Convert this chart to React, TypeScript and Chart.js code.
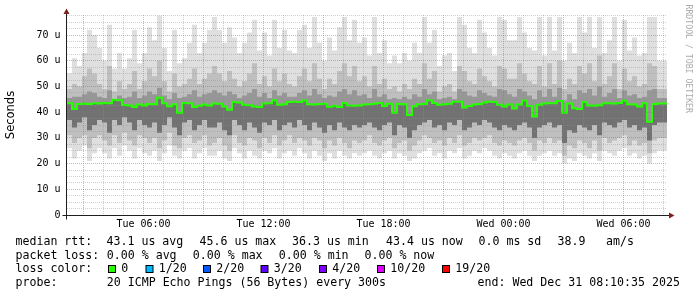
import { useEffect, useRef } from 'react';
import { Chart, registerables } from 'chart.js';

Chart.register(...registerables);

// time axis in hours counted from Tue 00:00
const START_HOUR = 2.176; // Tue 02:10:35
const END_HOUR = 32.176; // Wed 08:10:35
const STEP_HOURS = 0.25;

const RTT_MAX = [
  76, 55, 61, 58, 63, 72, 70, 65, 60, 74, 57, 63, 57, 61, 72, 59, 63, 73, 68, 77.5, 65, 56, 72, 59, 61, 67, 74, 63, 67, 72,
  77, 72, 67, 73, 69, 63, 67, 71, 76, 64, 71, 62, 76, 65, 72, 64, 63, 72, 74, 65, 77, 67, 60, 69, 64, 73, 77, 68, 76, 67,
  69, 62, 77, 63, 68, 59, 62, 59, 63, 60, 67, 63, 77, 67, 72, 58, 62, 63, 56, 77, 74, 65, 63, 76, 71, 65, 62, 77, 76, 68,
  68, 77, 71, 65, 64, 77, 62, 77, 64, 77, 60, 67, 63, 77, 71, 77, 65, 77, 63, 68, 77, 60, 76, 64, 69, 62, 63, 77, 77, 60,
];
const RTT_P90 = [
  53, 49, 51, 50, 54, 57, 55, 51, 49, 58, 48, 52, 49, 51, 56, 49, 52, 57, 54, 60, 52, 48, 55, 50, 51, 53, 57, 51, 53, 55,
  58, 55, 52, 56, 53, 50, 52, 55, 59, 51, 54, 50, 57, 52, 55, 51, 50, 54, 57, 52, 59, 53, 49, 53, 51, 56, 59, 54, 58, 52,
  54, 50, 58, 51, 53, 49, 50, 48, 51, 49, 53, 51, 59, 53, 56, 48, 50, 51, 48, 58, 56, 52, 51, 57, 54, 52, 50, 58, 57, 53,
  53, 59, 55, 52, 51, 58, 50, 59, 51, 60, 49, 53, 51, 58, 55, 59, 52, 62, 51, 54, 59, 49, 57, 52, 54, 50, 51, 59, 58, 49,
];
const RTT_P75 = [
  46.5, 45.5, 46, 46, 47, 48, 47.5, 46, 45.5, 48.5, 45, 46.5, 45.5, 46, 48, 45.5, 46.5, 48, 47, 49.5, 46.5, 45, 47.5, 45.5, 46, 47, 48.5, 46, 47, 47.5,
  48.5, 47.5, 46.5, 48, 47, 45.5, 46.5, 47.5, 49, 46, 47.5, 45.5, 48.5, 46.5, 47.5, 46, 46, 47.5, 48.5, 46.5, 49, 47, 45.5, 46.5, 46, 48, 49, 47, 48.5, 46.5,
  47, 45.5, 49, 46, 47, 45, 45.5, 45, 46, 45, 47, 46, 49, 47, 48, 45, 45.5, 46, 45, 49, 48, 46.5, 46, 48.5, 47.5, 46.5, 46, 49, 48.5, 47,
  46, 49, 48, 46.5, 45, 48.5, 46, 49, 46, 49.5, 44.5, 47, 45, 48.5, 47.5, 49, 46.5, 50, 46, 47.5, 49, 45.5, 48.5, 46.5, 47, 45.5, 46, 48.5, 49, 45.5,
];
const RTT_MEDIAN = [
  44.2, 43.5, 41.2, 43.2, 43.3, 43.2, 43.5, 43.4, 43.6, 43.5, 44.8, 44.6, 42.8, 42.6, 42.0, 43.0, 42.6, 43.2, 43.1, 45.6, 43.5, 42.3, 43.1, 39.8, 43.6, 43.5, 42.0, 42.5, 43.0, 42.6,
  43.4, 43.3, 42.2, 40.9, 44.0, 43.8, 42.9, 42.7, 42.2, 42.0, 43.4, 43.5, 44.6, 42.9, 43.1, 44.0, 44.1, 44.0, 44.5, 43.1, 43.0, 43.2, 43.3, 42.1, 42.5, 42.0, 43.6, 42.6, 42.5, 42.6,
  43.0, 43.1, 43.3, 43.6, 42.4, 43.3, 39.8, 43.2, 43.1, 38.9, 42.3, 43.1, 43.2, 44.6, 43.6, 42.9, 43.1, 43.3, 44.1, 44.1, 41.8, 42.4, 43.0, 43.2, 43.8, 44.1, 44.0, 42.9, 42.2, 43.0,
  41.4, 43.0, 44.5, 42.4, 38.3, 42.9, 43.4, 43.5, 43.5, 44.3, 39.8, 43.4, 41.5, 41.2, 44.0, 42.6, 42.5, 42.7, 43.5, 43.5, 43.4, 43.6, 44.4, 43.1, 43.0, 42.2, 43.5, 36.3, 43.2, 43.4,
];
const RTT_P25 = [
  35, 37, 34, 36, 38, 33, 35, 37, 36, 32, 37, 35, 38, 36, 33, 37, 35, 34, 36, 32, 35, 38, 34, 31, 36, 37, 33, 35, 37, 34,
  34, 36, 33, 31, 37, 35, 33, 36, 34, 32, 36, 35, 37, 33, 35, 36, 34, 37, 35, 33, 36, 34, 32, 35, 33, 36, 34, 33, 35, 34,
  35, 36, 34, 33, 35, 36, 31, 35, 34, 30, 33, 35, 36, 37, 34, 35, 33, 36, 35, 37, 33, 34, 36, 35, 37, 36, 34, 33, 35, 34,
  33, 35, 36, 34, 30, 34, 35, 36, 34, 35, 28, 33, 32, 35, 34, 33, 35, 31, 36, 35, 34, 36, 37, 34, 35, 33, 34, 29, 35, 36,
];
const RTT_P10 = [
  29, 31, 28, 30, 31, 26, 30, 31, 29, 27, 31, 28, 32, 29, 27, 31, 30, 28, 30, 26, 29, 32, 27, 26, 30, 31, 28, 29, 31, 27,
  28, 30, 27, 25, 31, 28, 27, 30, 29, 26, 30, 28, 31, 27, 29, 31, 28, 30, 29, 27, 30, 29, 26, 29, 27, 30, 28, 26, 29, 28,
  29, 31, 28, 27, 29, 30, 26, 28, 29, 25, 27, 29, 31, 30, 28, 29, 27, 30, 28, 31, 27, 28, 30, 29, 30, 31, 28, 27, 29, 28,
  27, 29, 30, 28, 25, 29, 28, 30, 28, 29, 23, 27, 26, 29, 28, 26, 29, 25, 30, 28, 29, 30, 31, 27, 29, 27, 28, 24, 29, 30,
];
const RTT_MIN = [
  24, 26, 22, 25, 27, 21, 24, 26, 24, 22, 26, 23, 27, 25, 22, 26, 24, 23, 25, 21, 24, 27, 23, 22, 25, 26, 22, 24, 26, 23,
  23, 25, 22, 21, 26, 24, 22, 25, 23, 22, 25, 24, 26, 22, 24, 25, 23, 26, 24, 22, 25, 23, 21, 24, 22, 25, 23, 22, 24, 23,
  24, 25, 23, 22, 24, 25, 22, 24, 23, 21, 22, 24, 25, 26, 23, 24, 22, 25, 24, 26, 22, 23, 25, 24, 26, 25, 23, 22, 24, 23,
  22, 24, 25, 23, 21, 23, 24, 25, 23, 24, 20, 22, 21, 24, 23, 22, 24, 21, 25, 24, 23, 25, 26, 23, 24, 22, 23, 20, 24, 25,
];

const X_TICK_HOURS = [6, 12, 18, 24, 30];
const X_TICK_LABELS = ['Tue 06:00', 'Tue 12:00', 'Tue 18:00', 'Wed 00:00', 'Wed 06:00'];
const Y_MAX = 77.8;
const Y_MINOR_STEP = 2.5;
const Y_MAJOR_LABELS = ['0', '10 u', '20 u', '30 u', '40 u', '50 u', '60 u', '70 u'];

const RTT_STATS = ['43.1 us avg', '45.6 us max', '36.3 us min', '43.4 us now', '0.0 ms sd', '38.9', 'am/s'];
const LOSS_STATS = ['0.00 % avg', '0.00 % max', '0.00 % min', '0.00 % now'];
const LOSS_LABELS = ['0', '1/20', '2/20', '3/20', '4/20', '10/20', '19/20'];
const LOSS_COLORS = ['#26ff00', '#00b8ff', '#0059ff', '#5e00ff', '#7e00ff', '#dd00ff', '#ff0000'];
const PROBE_TEXT = '20 ICMP Echo Pings (56 Bytes) every 300s';
const END_TEXT = 'end: Wed Dec 31 08:10:35 2025';
const WATERMARK = 'RRDTOOL / TOBI OETIKER';

const MONO = '"DejaVu Sans Mono", monospace';
const GRID_MINOR = 'rgba(143,143,143,0.42)';
const GRID_MAJOR = 'rgba(222,79,79,0.5)';

const GRID_HOURS: number[] = [];
for (let h = Math.ceil(START_HOUR); h <= Math.floor(END_HOUR); h++) GRID_HOURS.push(h);
const Y_TICKS: number[] = [];
for (let v = 0; v < Y_MAX; v += Y_MINOR_STEP) Y_TICKS.push(v);

const pts = (arr: number[]) => [
  ...arr.map((v, i) => ({ x: START_HOUR + i * STEP_HOURS, y: v })),
  { x: END_HOUR, y: arr[arr.length - 1] },
];

const band = (label: string, arr: number[], color: string | null, fill: string | false) => ({
  label,
  data: pts(arr),
  stepped: 'after' as const,
  borderWidth: 0,
  borderColor: 'rgba(0,0,0,0)',
  backgroundColor: color || 'rgba(0,0,0,0)',
  fill,
  pointRadius: 0,
});

const decor = {
  id: 'decor',
  afterDraw(chart: any) {
    const { ctx, chartArea } = chart;
    const ax = chartArea.left - 0.5;
    const ay = chartArea.bottom + 0.5;
    ctx.save();
    ctx.setLineDash([]);
    ctx.strokeStyle = '#1f1f1f';
    ctx.lineWidth = 1;
    ctx.beginPath();
    ctx.moveTo(ax - 4, ay);
    ctx.lineTo(chartArea.right + 2, ay);
    ctx.moveTo(ax, ay + 4);
    ctx.lineTo(ax, chartArea.top - 1);
    ctx.stroke();
    ctx.fillStyle = '#801f1f';
    ctx.beginPath();
    ctx.moveTo(ax - 3, chartArea.top - 1);
    ctx.lineTo(ax + 3, chartArea.top - 1);
    ctx.lineTo(ax, chartArea.top - 6.5);
    ctx.closePath();
    ctx.fill();
    ctx.beginPath();
    ctx.moveTo(chartArea.right + 2, ay - 3);
    ctx.lineTo(chartArea.right + 2, ay + 3);
    ctx.lineTo(chartArea.right + 7.5, ay);
    ctx.closePath();
    ctx.fill();

    // legend
    ctx.fillStyle = '#000';
    ctx.font = `11.6px ${MONO}`;
    ctx.textBaseline = 'alphabetic';
    ctx.textAlign = 'left';
    const rows = [245, 258.5, 272.2, 285.7];
    ctx.fillText('median rtt:', 15.5, rows[0]);
    const rttX = [106.5, 199.5, 292, 386, 478.5, 557.5, 606];
    RTT_STATS.forEach((t, i) => ctx.fillText(t, rttX[i], rows[0]));
    ctx.fillText('packet loss:', 15.5, rows[1]);
    const lossX = [106.8, 192.8, 278.8, 364.5];
    LOSS_STATS.forEach((t, i) => ctx.fillText(t, lossX[i], rows[1]));
    ctx.fillText('loss color:', 15.5, rows[2]);
    const boxX = [108, 145.5, 203, 260.5, 319, 377, 442];
    LOSS_LABELS.forEach((t, i) => {
      ctx.fillStyle = '#000';
      ctx.fillRect(boxX[i], 265, 8, 8);
      ctx.fillStyle = LOSS_COLORS[i];
      ctx.fillRect(boxX[i] + 1, 266, 6, 6);
      ctx.fillStyle = '#000';
      ctx.fillText(t, boxX[i] + 13.3, rows[2]);
    });
    ctx.fillText('probe:', 15.5, rows[3]);
    ctx.fillText(PROBE_TEXT, 106.8, rows[3]);
    ctx.fillText(END_TEXT, 477.5, rows[3]);

    // watermark
    ctx.fillStyle = '#ababab';
    ctx.font = `8.2px ${MONO}`;
    ctx.translate(688, 4.5);
    ctx.rotate(Math.PI / 2);
    ctx.textBaseline = 'middle';
    ctx.fillText(WATERMARK, 0, 0);
    ctx.restore();
  },
};

export default function App() {
  const ref = useRef<HTMLCanvasElement | null>(null);
  useEffect(() => {
    if (!ref.current) return;
    const chart = new Chart(ref.current, {
      type: 'line',
      data: {
        datasets: [
          {
            label: 'median',
            data: pts(RTT_MEDIAN),
            stepped: 'after',
            borderColor: LOSS_COLORS[0],
            borderWidth: 2,
            borderCapStyle: 'butt',
            borderJoinStyle: 'miter',
            fill: false,
            pointRadius: 0,
          },
          band('p75', RTT_P75, '#979797', '-1'),
          band('p25', RTT_P25, '#727272', '-2'),
          band('p90', RTT_P90, '#bfbfbf', '+1'),
          band('p10', RTT_P10, null, false),
          band('max', RTT_MAX, '#dfdfdf', '+1'),
          band('min', RTT_MIN, null, false),
        ] as any,
      },
      options: {
        animation: false,
        responsive: false,
        devicePixelRatio: 1,
        events: [],
        layout: { padding: { left: 0, top: 15, right: 30, bottom: 0 } },
        plugins: { legend: { display: false }, tooltip: { enabled: false } },
        scales: {
          x: {
            type: 'linear',
            min: START_HOUR,
            max: END_HOUR,
            afterBuildTicks: (s: any) => {
              s.ticks = GRID_HOURS.map((v) => ({ value: v }));
            },
            afterFit: (s: any) => {
              s.height = 82;
            },
            grid: {
              z: 1,
              drawTicks: false,
              lineWidth: 1,
              color: (c: any) => (c.tick && c.tick.value % 3 === 0 ? GRID_MAJOR : GRID_MINOR),
            },
            border: { display: false, dash: [1, 1] },
            ticks: {
              autoSkip: false,
              maxRotation: 0,
              padding: 3,
              color: '#000',
              font: { family: MONO, size: 10 },
              callback: (v: any) => {
                const i = X_TICK_HOURS.indexOf(Number(v));
                return i >= 0 ? X_TICK_LABELS[i] : '';
              },
            },
          },
          y: {
            type: 'linear',
            min: 0,
            max: Y_MAX,
            afterBuildTicks: (s: any) => {
              s.ticks = Y_TICKS.map((v) => ({ value: v }));
            },
            afterFit: (s: any) => {
              s.width = 67;
            },
            grid: {
              z: 1,
              drawTicks: false,
              lineWidth: 1,
              color: (c: any) => {
                const v = c.tick ? c.tick.value : 0;
                if (v === 0) return 'rgba(0,0,0,0)';
                return v % 10 === 0 ? GRID_MAJOR : GRID_MINOR;
              },
            },
            border: { display: false, dash: [1, 1] },
            title: {
              display: true,
              text: 'Seconds',
              color: '#000',
              font: { family: '"DejaVu Sans", sans-serif', size: 11.5 },
              padding: { top: 4, bottom: 4 },
            },
            ticks: {
              autoSkip: false,
              padding: 6.5,
              color: '#000',
              font: { family: MONO, size: 10 },
              callback: (v: any) => {
                const n = Number(v);
                return n % 10 === 0 ? Y_MAJOR_LABELS[n / 10] : '';
              },
            },
          },
        },
      },
      plugins: [decor],
    });
    return () => chart.destroy();
  }, []);

  return (
    <div style={{ position: 'absolute', left: 0, top: 0, width: 697, height: 297, background: '#fff' }}>
      <canvas ref={ref} width={697} height={297} style={{ display: 'block' }} />
    </div>
  );
}
